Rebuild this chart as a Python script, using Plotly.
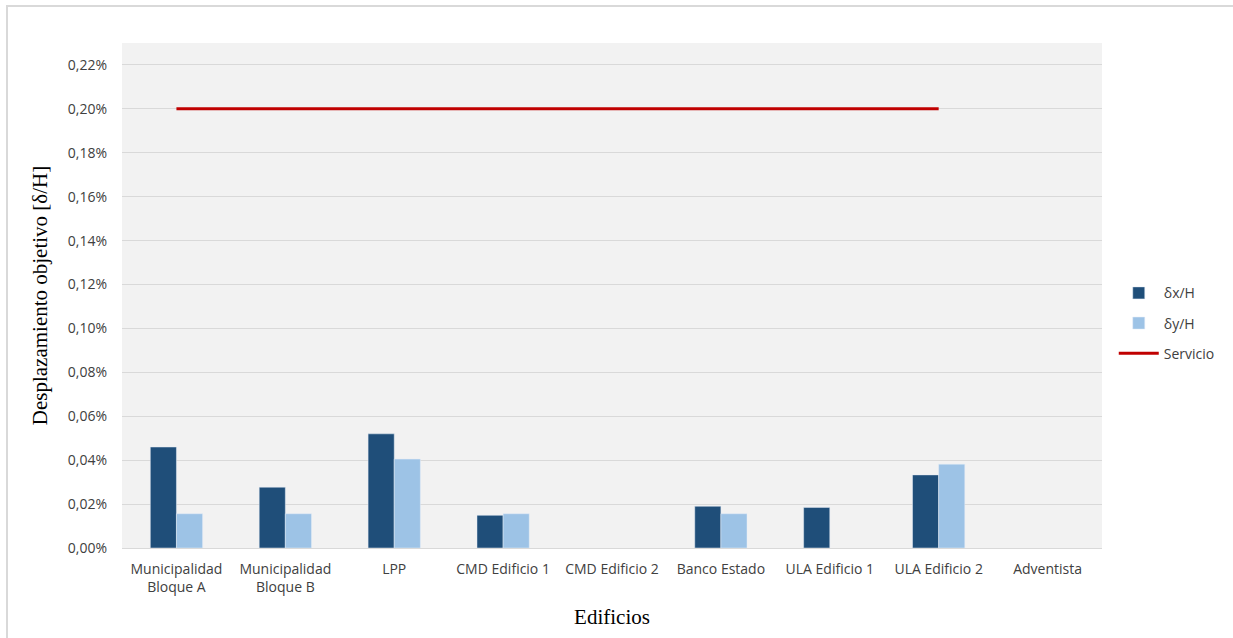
import plotly.graph_objects as go

categories = ["Municipalidad<br>Bloque A", "Municipalidad<br>Bloque B", "LPP", "CMD Edificio 1",
              "CMD Edificio 2", "Banco Estado", "ULA Edificio 1", "ULA Edificio 2", "Adventista"]
dx_H = [0.00046, 0.000277, 0.00052, 0.000149, None, 0.00019, 0.000185, 0.000333, None]
dy_H = [0.000156, 0.000156, 0.000405, 0.000156, None, 0.000156, None, 0.000382, None]
servicio = [0.002, 0.002, 0.002, 0.002, 0.002, 0.002, 0.002, 0.002, None]

fig = go.Figure()
fig.add_trace(go.Bar(x=categories, y=dx_H, name="δx/H", marker_color="#1F4E79",
                     legendgroup="a"))
fig.add_trace(go.Bar(x=categories, y=dy_H, name="δy/H", marker_color="#9DC3E6",
                     legendgroup="b"))
fig.add_trace(go.Scatter(x=categories, y=servicio, name="Servicio", mode="lines",
                         line=dict(color="#C00000", width=3), legendgroup="c"))

serif = "Liberation Serif, Times New Roman, serif"
fig.update_layout(
    width=1233, height=638,
    margin=dict(l=122, r=131, t=43, b=90),
    paper_bgcolor="white", plot_bgcolor="#F2F2F2",
    separators=",.",
    barmode="group", bargap=0.52, bargroupgap=0,
    font=dict(family="Open Sans, Liberation Sans, sans-serif", size=14, color="#404040"),
    legend=dict(x=1.012, y=0.445, xanchor="left", yanchor="middle",
                tracegroupgap=9, itemwidth=40, font=dict(size=14, color="#404040"),
                bgcolor="rgba(0,0,0,0)"),
    xaxis=dict(showgrid=False, showline=True, linecolor="#D9D9D9", linewidth=1,
               automargin=False,
               ticks="", ticklabelstandoff=8, tickfont=dict(size=14, color="#404040"),
               title=dict(text="Edificios", font=dict(family=serif, size=21, color="#000000"),
                          standoff=14)),
    yaxis=dict(range=[0, 0.0023], dtick=0.0002, tick0=0, tickformat=".2%",
               automargin=False,
               showgrid=True, gridcolor="#D9D9D9", gridwidth=1, zeroline=False,
               ticks="", ticklabelstandoff=14, tickfont=dict(size=14, color="#404040"),
               title=dict(text="Desplazamiento objetivo [δ/H]",
                          font=dict(family=serif, size=21, color="#000000"), standoff=14)),
    shapes=[dict(type="rect", xref="paper", yref="paper",
                 x0=-115/980, x1=1.2, y0=-0.3, y1=1 + 37/505,
                 line=dict(color="#D9D9D9", width=2), fillcolor="rgba(0,0,0,0)", layer="below")],
)

fig.write_html("out.html")
